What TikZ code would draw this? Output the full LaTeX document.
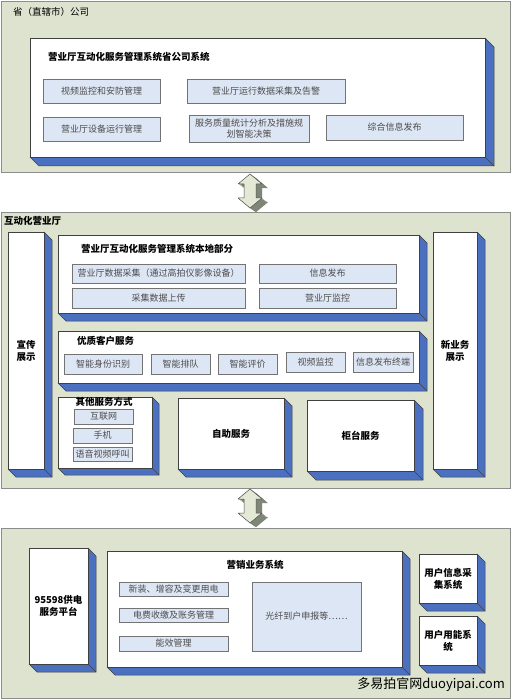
\documentclass[tikz,border=0pt]{standalone}
\usepackage{fontspec}
\setmainfont{Noto Sans CJK SC}
\usepackage{tikz}

\definecolor{panelfill}{HTML}{DDE3CE}
\definecolor{sideblue}{HTML}{4A70BF}
\definecolor{itemfill}{HTML}{DDE6F4}
\definecolor{arrowlight}{HTML}{E3E9D5}
\definecolor{arrowdark}{HTML}{7E8677}
\newcommand\bigfnt{\fontsize{9.5}{12}\selectfont}
\newcommand\smallfnt{\fontsize{9}{11}\selectfont}

\begin{document}
\begin{tikzpicture}[x=1pt, y=-1pt]
			\tikzset{panel/.style={draw=black!45, fill=panelfill, line width=0.8pt, inner sep=0pt},
			face/.style={draw=black!75, fill=white, line width=0.5pt, inner sep=0pt, align=center, font=\bigfnt\bfseries},
			side/.style={draw=black!75, fill=sideblue, line width=0.5pt, line join=round},
			item/.style={draw=black!55, fill=itemfill, line width=0.6pt, inner sep=0pt, align=center, text=black!70, font=\smallfnt},
			titre/.style={anchor=west, inner sep=0pt, font=\bigfnt\bfseries},
			tag/.style={anchor=west, inner sep=0pt, font=\bigfnt},
			arrowback/.style={fill=arrowdark},
			arrowfront/.style={draw=black!70, fill=arrowlight, line width=0.5pt, line join=round}};

			\useasboundingbox (0,0) rectangle (512,700);
			\fill[white] (0,0) rectangle (512,700);

			\foreach \name/\xa/\ya/\xb/\yb in {prov/1/1/510/172, hall/1/212/510/488, sales/1/528/510/698}{
				\node[panel, minimum width={\xb-\xa}, minimum height={\yb-\ya}] (\name) at ({(\xa+\xb)/2},{(\ya+\yb)/2}) {};
			}
			\node[tag] (provtag) at (13,12) {省（直辖市）公司};
			\node[tag, font=\bigfnt\bfseries] (halltag) at (4,221) {互动化营业厅};

			\foreach \cy in {191,506}{
				\begin{scope}[shift={(250,\cy)}]
					\foreach \s in {1,...,6}{
						\fill[arrowback, shift={(\s,0.7*\s)}] (0,-17) -- (12,-7) -- (6,-7) -- (6,7) -- (12,7) -- (0,17) -- (-12,7) -- (-6,7) -- (-6,-7) -- (-12,-7) -- cycle;
					}
					\draw[arrowfront] (0,-17) -- (12,-7) -- (6,-7) -- (6,7) -- (12,7) -- (0,17) -- (-12,7) -- (-6,7) -- (-6,-7) -- (-12,-7) -- cycle;
				\end{scope}
			}

			\foreach \name/\xa/\ya/\xb/\yb/\d/\txt in {provsys/30/38/485/157/9/{}, publicity/8/232/44/469/8/{宣传\\展示},
				newbiz/433/232/477/469/8/{新业务\\展示}, local/58/235/419/313/8/{}, quality/58/331/419/383/8/{},
				other/58/397/152/468/7/{}, selfsvc/178/398/284/469/8/{自助服务}, counter/307/400/414/471/9/{柜台服务},
				hotline/29/548/88/664/8/{95598供电\\服务平台}, marketing/107/551/402/667/8/{},
				usercollect/419/554/477/603/8/{用户信息采\\集系统}, userenergy/419/616/477/665/8/{用户用能系\\统}}{
				\draw[side] (\xb,\ya) -- (\xb+\d,\ya+\d) -- (\xb+\d,\yb+\d) -- (\xa+\d,\yb+\d) -- (\xa,\yb) -- (\xb,\yb) -- cycle;
				\draw[side] (\xb,\yb) -- (\xb+\d,\yb+\d);
				\node[face, minimum width={\xb-\xa}, minimum height={\yb-\ya}] (\name) at ({(\xa+\xb)/2},{(\ya+\yb)/2}) {\txt};
			}

			\node[titre] (provtitle) at (48,57) {营业厅互动化服务管理系统省公司系统};
			\node[titre] (localtitle) at (81,249) {营业厅互动化服务管理系统本地部分};
			\node[titre] (qualtitle) at (77,341) {优质客户服务};
			\node[titre, anchor=center] (othertitle) at (104,402) {其他服务方式};
			\node[titre, anchor=center] (mkttitle) at (255,565) {营销业务系统};

			\foreach \name/\xa/\ya/\xb/\yb/\txt in {video/43/79/160/103/视频监控和安防管理, alarm/187/79/345/103/营业厅运行数据采集及告警,
				equip/43/117/160/141/营业厅设备运行管理, decision/189/115/309/142/{服务质量统计分析及措施规\\划智能决策},
				infopub/326/115/463/140/综合信息发布, collect/72/264/245/283/营业厅数据采集（通过高拍仪影像设备）,
				release/259/264/396/283/信息发布, upload/72/288/245/308/采集数据上传, monitor/259/288/396/308/营业厅监控,
				ident/64/354/142/374/智能身份识别, queue/151/354/210/374/智能排队, rating/218/354/277/374/智能评价,
				camera/286/352/345/372/视频监控, terminal/353/352/413/372/信息发布终端,
				web/74/409/133/424/互联网, phone/73/428/132/443/手机, call/73/447/132/461/语音视频呼叫,
				newconn/119/582/228/596/新装、增容及变更用电, billing/119/608/228/622/电费收缴及账务管理,
				efficiency/119/636/228/651/能效管理, fiber/252/582/361/651/光纤到户申报等……}{
				\node[item, minimum width={\xb-\xa}, minimum height={\yb-\ya}] (\name) at ({(\xa+\xb)/2},{(\ya+\yb)/2}) {\txt};
			}

			\node[anchor=east, inner sep=0pt, font=\fontsize{13}{15}\selectfont] (mark) at (505,685) {多易拍官网duoyipai.com};

		\end{tikzpicture}
\end{document}
